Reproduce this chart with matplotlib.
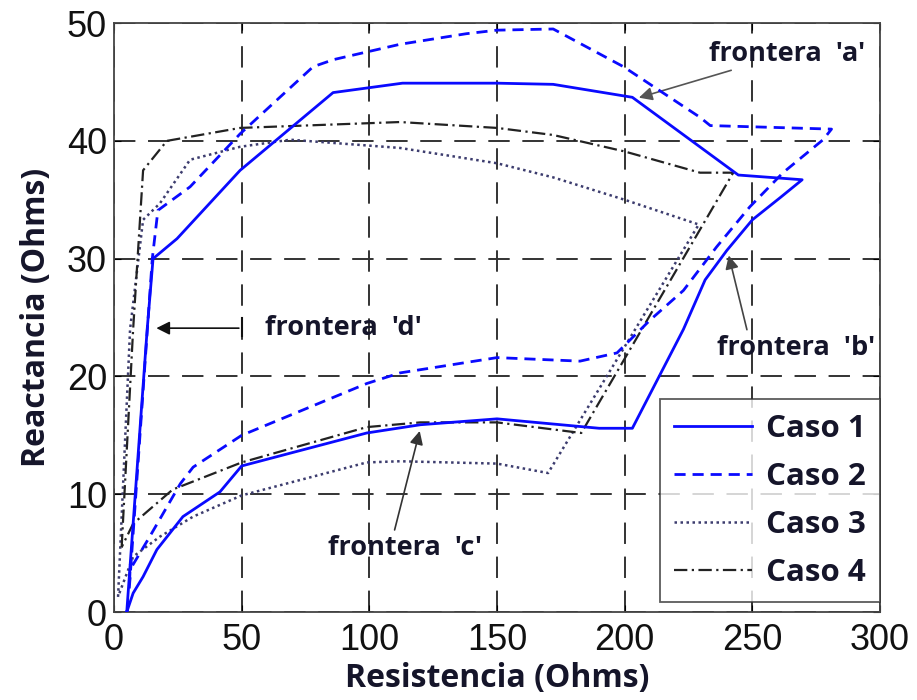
import matplotlib
matplotlib.use("Agg")
import matplotlib.pyplot as plt

# Caso 1 (solid blue) - closed loop
r1 = [5, 13, 15.3, 24.7, 49.4, 85.8, 113, 150, 172, 203, 244.5, 269.5, 261, 250, 240,
      231.5, 223, 203, 190, 150, 120, 99, 50, 41.5, 27, 16.8, 11.4, 7.5, 5]
x1 = [0, 24, 30, 31.7, 37.5, 44.1, 44.9, 44.9, 44.8, 43.7, 37.1, 36.7, 35.2, 33.3, 30.7,
      28.2, 24.0, 15.6, 15.6, 16.4, 15.9, 15.2, 12.4, 10.2, 8.1, 5.3, 3.0, 1.6, 0]

# Caso 2 (dashed blue)
r2 = [6, 15, 17.2, 29.8, 49.4, 78, 86, 112, 138, 150, 172, 199.5, 229.5, 233.5, 281,
      277.7, 262, 249, 236, 223, 210, 197, 182.5, 150, 112, 99, 50, 31, 26, 14, 6.3, 6]
x2 = [2, 30, 34.1, 36.1, 40.6, 46.3, 46.9, 48.2, 49.1, 49.4, 49.5, 46.3, 42.0, 41.3, 41.0,
      40.1, 37.3, 34.4, 31.0, 27.3, 24.8, 22.0, 21.3, 21.6, 20.3, 19.4, 15.0, 12.3, 10.9, 6.4, 3.6, 2]

# Caso 3 (dotted)
r3 = [1.6, 6.3, 11.4, 18, 29.8, 49.4, 69, 112, 150, 172, 200, 229, 170, 150, 112, 99,
      50, 31, 18, 7.5, 1.6]
x3 = [1.3, 24, 33.3, 34.7, 38.4, 39.5, 40.1, 39.4, 38.1, 36.9, 35.0, 32.9, 11.8, 12.6,
      12.8, 12.7, 9.9, 8.1, 6.4, 4.7, 1.3]

# Caso 4 (dash-dot black)
r4 = [3, 7.5, 11.4, 20.7, 49.4, 112, 150, 172, 200, 229.5, 242.5, 183, 150, 120, 99,
      50, 23, 7.5, 3]
x4 = [5.5, 24, 37.5, 40, 41.1, 41.6, 41.1, 40.5, 39.1, 37.3, 37.3, 15.2, 16.1, 16.1,
      15.7, 12.7, 10.4, 7.5, 5.5]

xticks = [0, 50, 100, 150, 200, 250, 300]
yticks = [0, 10, 20, 30, 40, 50]

txt_color = "#15152a"
lbl_font = ["Open Sans", "DejaVu Sans"]

fig = plt.figure(figsize=(9.17, 7.0), dpi=100)
ax = fig.add_axes([0.1243, 0.1257, 0.8354, 0.8413])

ax.plot(r1, x1, color="#0a0aff", lw=2.0, ls="-", label="Caso 1", zorder=4)
ax.plot(r2, x2, color="#0a0aff", lw=2.0, ls=(0, (4, 2.5)), label="Caso 2", zorder=4)
ax.plot(r3, x3, color="#3c3c6e", lw=1.8, ls=(0, (1, 1.4)), label="Caso 3", zorder=3)
ax.plot(r4, x4, color="#222222", lw=1.6, ls=(0, (6, 2, 1, 2)), label="Caso 4", zorder=3)

ax.set_xlim(0, 300)
ax.set_ylim(0, 50)
ax.set_xticks(xticks)
ax.set_yticks(yticks)
ax.grid(True, color="#333333", lw=1.4, ls=(0, (11, 6.5)))
ax.tick_params(direction="in", length=5, top=True, right=True, labelsize=26)
ax.tick_params(axis="x", pad=8)
ax.tick_params(axis="y", pad=5)
for t in ax.get_xticklabels() + ax.get_yticklabels():
    t.set_family("Liberation Sans")
    t.set_color("#111111")
for s in ax.spines.values():
    s.set_color("#444444")
    s.set_linewidth(1.3)

ax.set_xlabel("Resistencia (Ohms)", fontsize=23, fontweight="bold", family=lbl_font,
              color=txt_color, labelpad=3)
ax.set_ylabel("Reactancia (Ohms)", fontsize=23, fontweight="bold", family=lbl_font,
              color=txt_color, labelpad=10)

# annotations
ann = dict(fontsize=19.5, fontweight="bold", family=lbl_font, color=txt_color)
ax.annotate("frontera  'a'", xy=(204.5, 43.6), xytext=(233, 47.4),
            arrowprops=dict(arrowstyle="-|>", color="#555555", lw=1.2, mutation_scale=20),
            va="center", ha="left", **ann)
ax.annotate("frontera  'b'", xy=(240.5, 30.5), xytext=(236, 22.4),
            arrowprops=dict(arrowstyle="-|>", color="#444444", lw=1.2, mutation_scale=20,
                            relpos=(0.2, 1.0)),
            va="center", ha="left", **ann)
ax.annotate("frontera  'c'", xy=(120, 15.6), xytext=(84, 5.4),
            arrowprops=dict(arrowstyle="-|>", color="#333333", lw=1.2, mutation_scale=20,
                            relpos=(0.42, 1.0)),
            va="center", ha="left", **ann)
ax.annotate("", xy=(15.5, 24.1), xytext=(50, 24.1),
            arrowprops=dict(arrowstyle="-|>", color="#111111", lw=1.2, mutation_scale=20))
ax.plot([50, 50], [23.4, 25.0], color="#111111", lw=1.5)
ax.text(59, 24.1, "frontera  'd'", va="center", ha="left", **ann)

leg = ax.legend(loc="lower right", bbox_to_anchor=(1.0, 0.017),
                prop=dict(family=lbl_font, weight="bold", size=22.5),
                frameon=True, fancybox=False, handlelength=2.5, borderpad=0.45,
                labelspacing=0.58, handletextpad=0.45, borderaxespad=0.0)
leg.get_frame().set_edgecolor("#333333")
leg.get_frame().set_linewidth(1.3)
for t in leg.get_texts():
    t.set_color(txt_color)

fig.savefig("out.png", dpi=100)
